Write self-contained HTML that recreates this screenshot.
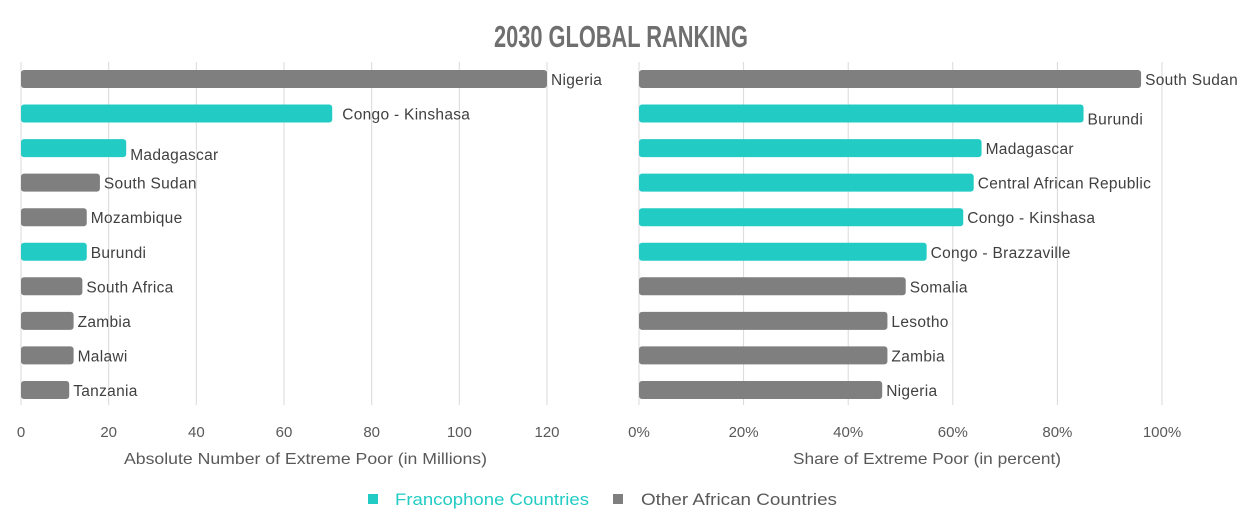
<!DOCTYPE html>
<html><head><meta charset="utf-8"><style>
body{margin:0;background:#fff;}
svg text{font-family:"Liberation Sans",sans-serif;}
</style></head><body>
<svg id="c" width="1246" height="520" xmlns="http://www.w3.org/2000/svg">
<text x="621" y="47" text-anchor="middle" font-size="31" font-weight="bold" fill="#6f6f6f" style="font-family:'Liberation Sans Narrow','Liberation Sans',sans-serif" textLength="254" lengthAdjust="spacingAndGlyphs">2030 GLOBAL RANKING</text>
<g id="left"></g><g id="right"></g>
<text x="124" y="464" font-size="16" fill="#595959" textLength="363" lengthAdjust="spacingAndGlyphs">Absolute Number of Extreme Poor (in Millions)</text>
<text x="793" y="464" font-size="16" fill="#595959" textLength="268" lengthAdjust="spacingAndGlyphs">Share of Extreme Poor (in percent)</text>
<g>
<rect x="368" y="494" width="10" height="10" fill="#22ccc4"/>
<text x="395" y="505" font-size="17" fill="#22ccc4" textLength="194" lengthAdjust="spacingAndGlyphs">Francophone Countries</text>
<rect x="613" y="494" width="10" height="10" fill="#7f7f7f"/>
<text x="641" y="505" font-size="17" fill="#595959" textLength="196" lengthAdjust="spacingAndGlyphs">Other African Countries</text>
</g>
</svg>
<script>
const leftCats=["Nigeria","Congo - Kinshasa","Madagascar","South Sudan","Mozambique","Burundi","South Africa","Zambia","Malawi","Tanzania"];
const leftVals=[120,71,24,18,15,15,14,12,12,11];
const leftFranco=[0,1,1,0,0,1,0,0,0,0];
const leftTicks=[0,20,40,60,80,100,120];
const rightCats=["South Sudan","Burundi","Madagascar","Central African Republic","Congo - Kinshasa","Congo - Brazzaville","Somalia","Lesotho","Zambia","Nigeria"];
const rightVals=[96,85,65.5,64,62,55,51,47.5,47.5,46.5];
const rightFranco=[0,1,1,1,1,1,0,0,0,0];
const rightTicks=[0,20,40,60,80,100];
const NS="http://www.w3.org/2000/svg";
function mk(p,t,a){const e=document.createElementNS(NS,t);for(const k in a)e.setAttribute(k,a[k]);p.appendChild(e);return e;}
function yPos(i){return 79+i*34.55;}
function draw(g,cats,vals,fr,ticks,x0,pxPer,suffix,side){
  const xs=v=>x0+v*pxPer;
  ticks.forEach(t=>{
    const l=mk(g,"line",{x1:xs(t),x2:xs(t),y1:62,y2:405,stroke:"#d9d9d9","stroke-width":1});
    
    
    const tx=mk(g,"text",{x:xs(t),y:437,"text-anchor":"middle","font-size":"15",fill:"#595959"});
    tx.textContent=t+suffix;
    
    
  });
  cats.forEach((c,i)=>{
    const y=yPos(i),w=xs(vals[i])-x0;
    const r=mk(g,"rect",{x:x0,y:y-9,width:w,height:18,rx:3,fill:fr[i]?"#22ccc4":"#7f7f7f"});
    
    
    let dx=4,dy=6;
    if(side==="l"&&i===1)dx=10;
    if(side==="l"&&i===2)dy=12;
    if(side==="r"&&i===1)dy=11;
    const t=mk(g,"text",{x:x0+w+dx,y:y+dy,"font-size":"15.5",fill:"#404040","letter-spacing":"0.3"});
    t.textContent=c;
    
    
  });
}
draw(document.getElementById("left"),leftCats,leftVals,leftFranco,leftTicks,21,526/120,"","l");
draw(document.getElementById("right"),rightCats,rightVals,rightFranco,rightTicks,639,5.23,"%","r");
</script>
</body></html>
